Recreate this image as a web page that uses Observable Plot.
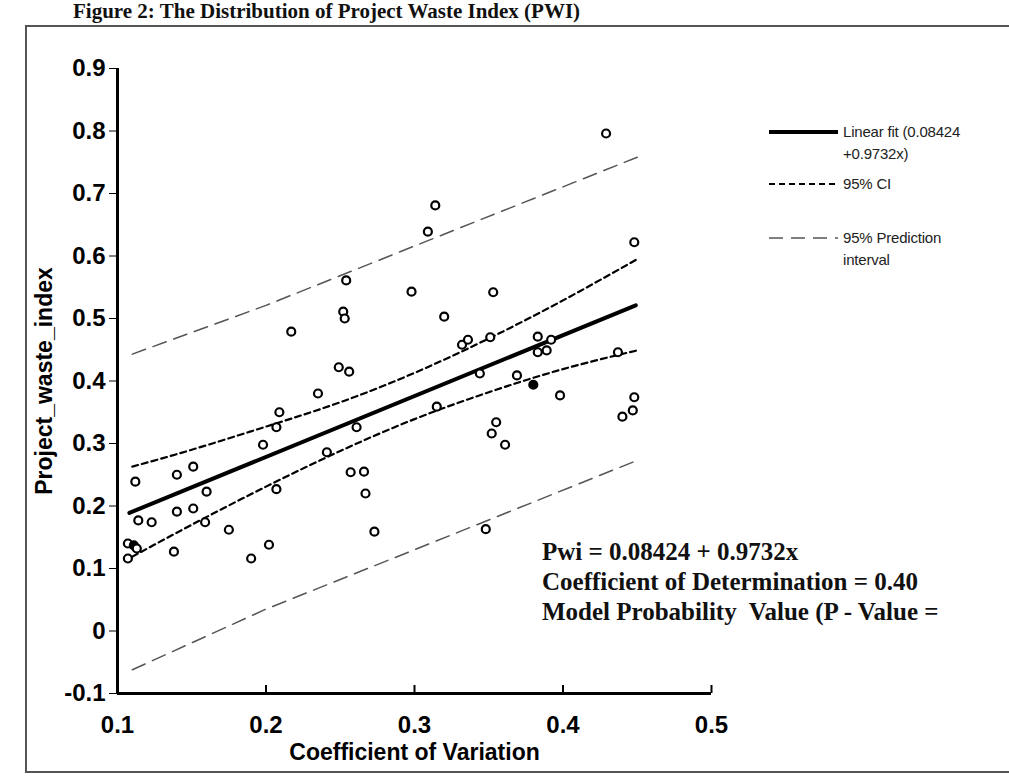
<!DOCTYPE html>
<html>
<head>
<meta charset="utf-8">
<script src="https://cdn.jsdelivr.net/npm/d3@7"></script>
<script src="https://cdn.jsdelivr.net/npm/@observablehq/plot@0.6"></script>
<style>
  html, body { margin: 0; padding: 0; background: #fff; }
  #wrap { position: relative; width: 1009px; height: 776px; overflow: hidden; background: #fff; }
  #chart { position: absolute; left: 0; top: 0; }
  .frame { position: absolute; background: #555; }
  #title { position: absolute; left: 73px; top: 1px; font-family: "Liberation Serif", "Times New Roman", serif; font-weight: bold; font-size: 21px; line-height: 21px; white-space: nowrap; color: #111; }
  #legend { position: absolute; left: 0; top: 0; font-family: "Liberation Sans", Arial, sans-serif; font-size: 15px; letter-spacing: -0.2px; color: #222; }
  #legend .item { position: absolute; left: 768px; }
  #legend .txt { position: absolute; left: 75px; top: 0; white-space: nowrap; line-height: 22px; }
  #note { position: absolute; left: 542px; top: 537px; font-family: "Liberation Serif", "Times New Roman", serif; font-weight: bold; font-size: 25px; line-height: 30px; color: #111; white-space: nowrap; }
</style>
</head>
<body>
<div id="wrap">
  <div id="chart"></div>
  <div id="title">Figure 2: The Distribution of Project Waste Index (PWI)</div>
  <div class="frame" style="left:25px; top:25px; width:984px; height:1.5px;"></div>
  <div class="frame" style="left:25px; top:25px; width:1.5px; height:746px;"></div>
  <div class="frame" style="left:25px; top:771px; width:984px; height:1.5px;"></div>
  <div id="legend"></div>
  <div id="note"></div>
</div>
<script>
// ---- Data ----
const cvValues = [
  0.254, 0.298, 0.252, 0.253, 0.217, 0.249, 0.256, 0.235, 0.209, 0.207,
  0.198, 0.261, 0.241, 0.112, 0.140, 0.151, 0.160, 0.257, 0.266, 0.267,
  0.207, 0.114, 0.123, 0.140, 0.151, 0.159, 0.175, 0.273, 0.107, 0.111,
  0.113, 0.107, 0.138, 0.190, 0.202, 0.429, 0.314, 0.309, 0.448, 0.353,
  0.320, 0.332, 0.336, 0.351, 0.383, 0.392, 0.383, 0.389, 0.437, 0.344,
  0.369, 0.380, 0.398, 0.315, 0.448, 0.447, 0.440, 0.355, 0.352, 0.361,
  0.348
];
const pwiValues = [
  0.561, 0.543, 0.511, 0.500, 0.479, 0.422, 0.415, 0.380, 0.350, 0.326,
  0.298, 0.326, 0.286, 0.239, 0.250, 0.263, 0.223, 0.254, 0.255, 0.220,
  0.227, 0.177, 0.174, 0.191, 0.196, 0.174, 0.162, 0.159, 0.140, 0.137,
  0.132, 0.116, 0.127, 0.116, 0.138, 0.796, 0.681, 0.639, 0.622, 0.542,
  0.503, 0.458, 0.466, 0.470, 0.471, 0.466, 0.446, 0.449, 0.446, 0.412,
  0.409, 0.394, 0.377, 0.359, 0.374, 0.353, 0.343, 0.334, 0.316, 0.298,
  0.163
];
const filledPoints = [29, 51]; // indices drawn as solid dots

const fitX = [0.108, 0.449];
const fitY = [0.189, 0.521];

const ciX     = [0.11, 0.15, 0.20, 0.25, 0.30, 0.35, 0.40, 0.45];
const ciUpper = [0.263, 0.290, 0.327, 0.366, 0.413, 0.468, 0.529, 0.595];
const ciLower = [0.119, 0.170, 0.231, 0.288, 0.339, 0.382, 0.419, 0.449];

const piX     = [0.11, 0.20, 0.30, 0.45];
const piUpper = [0.443, 0.521, 0.616, 0.758];
const piLower = [-0.062, 0.035, 0.130, 0.273];

const xTicks = [0.1, 0.2, 0.3, 0.4, 0.5];
const yTicks = [-0.1, 0, 0.1, 0.2, 0.3, 0.4, 0.5, 0.6, 0.7, 0.8, 0.9];

const legendItems = [
  {label: "Linear fit (0.08424<br>+0.9732x)", dash: null, width: 4, color: "#000"},
  {label: "95% CI", dash: "6,4", width: 2.2, color: "#000"},
  {label: "95% Prediction<br>interval", dash: "14,8", width: 1.5, color: "#555"}
];
const noteLines = [
  "Pwi = 0.08424 + 0.9732x",
  "Coefficient of Determination = 0.40",
  "Model Probability&nbsp; Value (P - Value ="
];

// ---- Build tables ----
const points = cvValues.map((x, i) => ({x, y: pwiValues[i], filled: filledPoints.includes(i)}));
const fit = fitX.map((x, i) => ({x, y: fitY[i]}));
const ciU = ciX.map((x, i) => ({x, y: ciUpper[i]}));
const ciL = ciX.map((x, i) => ({x, y: ciLower[i]}));
const piU = piX.map((x, i) => ({x, y: piUpper[i]}));
const piL = piX.map((x, i) => ({x, y: piLower[i]}));

const fmt = d => d === 0 ? "0" : String(+d.toFixed(1));

const chart = Plot.plot({
  width: 1009,
  height: 776,
  marginLeft: 117,
  marginRight: 298,
  marginTop: 68,
  marginBottom: 83,
  style: {background: "transparent", fontFamily: "'Liberation Sans', Arial, sans-serif", fontSize: "24px", fontWeight: "bold", color: "#000"},
  x: {domain: [0.1, 0.5]},
  y: {domain: [-0.1, 0.9]},
  marks: [
    Plot.line(piU, {x: "x", y: "y", stroke: "#555", strokeWidth: 1.5, strokeDasharray: "14,8"}),
    Plot.line(piL, {x: "x", y: "y", stroke: "#555", strokeWidth: 1.5, strokeDasharray: "14,8"}),
    Plot.line(ciU, {x: "x", y: "y", curve: "natural", stroke: "#000", strokeWidth: 2.2, strokeDasharray: "6,4"}),
    Plot.line(ciL, {x: "x", y: "y", curve: "natural", stroke: "#000", strokeWidth: 2.2, strokeDasharray: "6,4"}),
    Plot.line(fit, {x: "x", y: "y", stroke: "#000", strokeWidth: 4}),
    Plot.dot(points, {x: "x", y: "y", r: 4, stroke: "#000", strokeWidth: 2.2, fill: d => d.filled ? "#000" : "#fff"}),
    Plot.axisY({ticks: yTicks, tickFormat: fmt, tickSize: 8, tickPadding: 4, fontSize: 24, fontWeight: "bold",
      label: "Project_waste_index", labelAnchor: "center", labelOffset: 82, labelArrow: "none"}),
    Plot.axisX({ticks: xTicks, tickFormat: fmt, tickSize: 0, tickPadding: 22, fontSize: 24, fontWeight: "bold",
      label: "Coefficient of Variation", labelAnchor: "center", labelOffset: 66, labelArrow: "none"}),
    Plot.ruleX(xTicks, {y1: -0.1, y2: -0.1, insetTop: -8, stroke: "#000", strokeWidth: 2}),
    Plot.ruleX([0.1], {stroke: "#000", strokeWidth: 3}),
    Plot.ruleY([-0.1], {stroke: "#000", strokeWidth: 3})
  ]
});
document.getElementById("chart").appendChild(chart);

// enlarge tick labels and axis titles
chart.querySelectorAll("g[aria-label$='tick label']").forEach(g => {
  g.setAttribute("font-size", "24");
  g.setAttribute("font-weight", "bold");
  g.style.fontSize = "24px";
  g.querySelectorAll("text").forEach(t => { t.style.fontSize = "24px"; t.style.fontWeight = "bold"; });
});
chart.querySelectorAll("g[aria-label='y-axis label'], g[aria-label='x-axis label']").forEach(g => {
  g.setAttribute("font-size", "23");
  g.setAttribute("font-weight", "bold");
  g.querySelectorAll("text").forEach(t => { t.style.fontSize = "23px"; t.style.fontWeight = "bold"; });
});

// ---- Legend ----
const legend = document.getElementById("legend");
const legendTops = [121, 173, 227];
legendItems.forEach((it, i) => {
  const div = document.createElement("div");
  div.className = "item";
  div.style.top = legendTops[i] + "px";
  div.innerHTML = `<svg width="72" height="16" style="position:absolute;left:0;top:3px"><line x1="1" y1="8" x2="70" y2="8" stroke="${it.color}" stroke-width="${it.width}" ${it.dash ? `stroke-dasharray="${it.dash}"` : ""}/></svg><div class="txt">${it.label}</div>`;
  legend.appendChild(div);
});

document.getElementById("note").innerHTML = noteLines.join("<br>");
</script>
</body>
</html>
